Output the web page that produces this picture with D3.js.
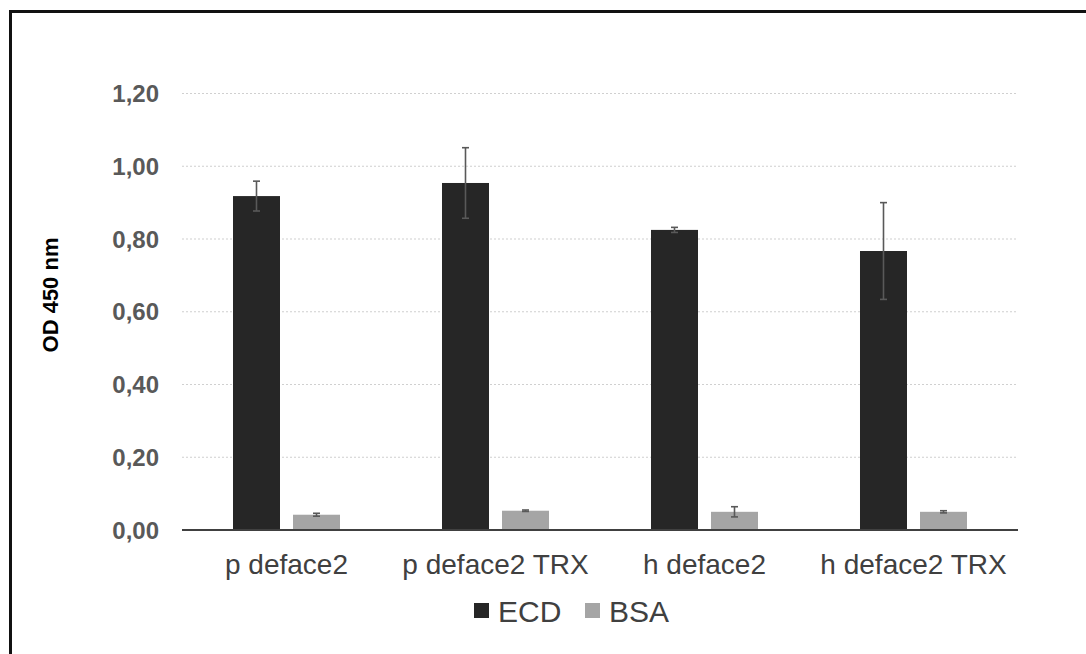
<!DOCTYPE html>
<html>
<head>
<meta charset="utf-8">
<script src="https://cdn.jsdelivr.net/npm/d3@7"></script>
<style>
  body { margin: 0; background: #fff; }
  text { font-family: "Liberation Sans", Arial, sans-serif; }
  .tick-label { fill: #595959; font-weight: bold; font-size: 24px; }
  .cat-label { fill: #404040; font-size: 28px; }
  .legend text { fill: #404040; font-size: 30px; }
</style>
</head>
<body>
<script>
const categories = ["p deface2", "p deface2 TRX", "h deface2", "h deface2 TRX"],
    series = ["ECD", "BSA"],
    colors = ["#262626", "#a5a5a5"],
    ecdValues = [0.918, 0.954, 0.825, 0.767],
    ecdErrors = [0.041, 0.097, 0.007, 0.133],
    bsaValues = [0.042, 0.053, 0.050, 0.050],
    bsaErrors = [0.004, 0.002, 0.014, 0.003],
    yTicks = [0, 0.2, 0.4, 0.6, 0.8, 1.0, 1.2];

const svgWidth = 1086,
    svgHeight = 654,
    plot = {left: 182, right: 1018, top: 93.5, bottom: 530};

let svg = d3.select("body").append("svg")
    .attr("width", svgWidth)
    .attr("height", svgHeight);

// frame
svg.append("rect")
    .attr("x", 10.5)
    .attr("y", 11.5)
    .attr("width", 1200)
    .attr("height", 800)
    .style("fill", "none")
    .style("stroke", "#111")
    .style("stroke-width", 3);

let x0 = d3.scaleBand().domain(categories).range([plot.left, plot.right])
      .paddingInner(0.488).paddingOuter(0.244),
    x1 = d3.scaleBand().domain(series).range([0, x0.bandwidth()]).paddingInner(0.2167),
    y = d3.scaleLinear().domain([0, 1.2]).range([plot.bottom, plot.top]),
    fmt = d3.format(".2f");

// grid lines
svg.append("g").attr("class", "grid")
  .selectAll("line")
  .data(yTicks.slice(1))
  .enter().append("line")
    .attr("x1", plot.left)
    .attr("x2", plot.right)
    .attr("y1", d => y(d))
    .attr("y2", d => y(d))
    .style("stroke", "#d0d0d0")
    .style("stroke-width", 1.2)
    .style("stroke-dasharray", "2,2");

// y tick labels
svg.append("g")
  .selectAll("text")
  .data(yTicks)
  .enter().append("text")
    .attr("class", "tick-label")
    .attr("x", 159)
    .attr("y", d => y(d))
    .attr("dy", "0.36em")
    .style("text-anchor", "end")
    .text(d => fmt(d).replace(".", ","));

// y axis title
svg.append("text")
    .attr("transform", "translate(58,295) rotate(-90)")
    .style("text-anchor", "middle")
    .style("font-weight", "bold")
    .style("font-size", "22px")
    .style("fill", "#000")
    .text("OD 450 nm");

const rows = categories.map((c, i) => ({
  category: c,
  bars: [
    {key: "ECD", value: ecdValues[i], err: ecdErrors[i]},
    {key: "BSA", value: bsaValues[i], err: bsaErrors[i]}
  ]
}));

let groups = svg.append("g").attr("class", "bars")
  .selectAll("g")
  .data(rows)
  .enter().append("g")
    .attr("transform", d => "translate(" + x0(d.category) + ",0)");

groups.selectAll("rect")
  .data(d => d.bars)
  .enter().append("rect")
    .attr("x", d => x1(d.key))
    .attr("y", d => y(d.value))
    .attr("width", x1.bandwidth())
    .attr("height", d => y(0) - y(d.value))
    .style("fill", (d, i) => colors[i]);

// error bars
let err = groups.selectAll("g.err")
  .data(d => d.bars)
  .enter().append("g")
    .attr("class", "err")
    .style("stroke", "#595959")
    .style("stroke-width", 1.6);

const cap = 3.5;
err.append("line")
    .attr("x1", d => x1(d.key) + x1.bandwidth() / 2)
    .attr("x2", d => x1(d.key) + x1.bandwidth() / 2)
    .attr("y1", d => y(d.value + d.err))
    .attr("y2", d => y(d.value - d.err));
err.append("line")
    .attr("x1", d => x1(d.key) + x1.bandwidth() / 2 - cap)
    .attr("x2", d => x1(d.key) + x1.bandwidth() / 2 + cap)
    .attr("y1", d => y(d.value + d.err))
    .attr("y2", d => y(d.value + d.err));
err.append("line")
    .attr("x1", d => x1(d.key) + x1.bandwidth() / 2 - cap)
    .attr("x2", d => x1(d.key) + x1.bandwidth() / 2 + cap)
    .attr("y1", d => y(d.value - d.err))
    .attr("y2", d => y(d.value - d.err));

// baseline
svg.append("line")
    .attr("x1", plot.left)
    .attr("x2", plot.right)
    .attr("y1", y(0))
    .attr("y2", y(0))
    .style("stroke", "#404040")
    .style("stroke-width", 2);

// category labels
svg.append("g")
  .selectAll("text")
  .data(categories)
  .enter().append("text")
    .attr("class", "cat-label")
    .attr("x", d => x0(d) + x0.bandwidth() / 2)
    .attr("y", 574)
    .style("text-anchor", "middle")
    .text(d => d);

// legend
const legendX = [474, 585];
let legend = svg.append("g").attr("class", "legend")
  .selectAll("g")
  .data(series)
  .enter().append("g")
    .attr("transform", (d, i) => "translate(" + legendX[i] + ",603)");

legend.append("rect")
    .attr("width", 15)
    .attr("height", 15)
    .style("fill", (d, i) => colors[i]);

legend.append("text")
    .attr("x", 24)
    .attr("y", 19)
    .text(d => d);
</script>
</body>
</html>
